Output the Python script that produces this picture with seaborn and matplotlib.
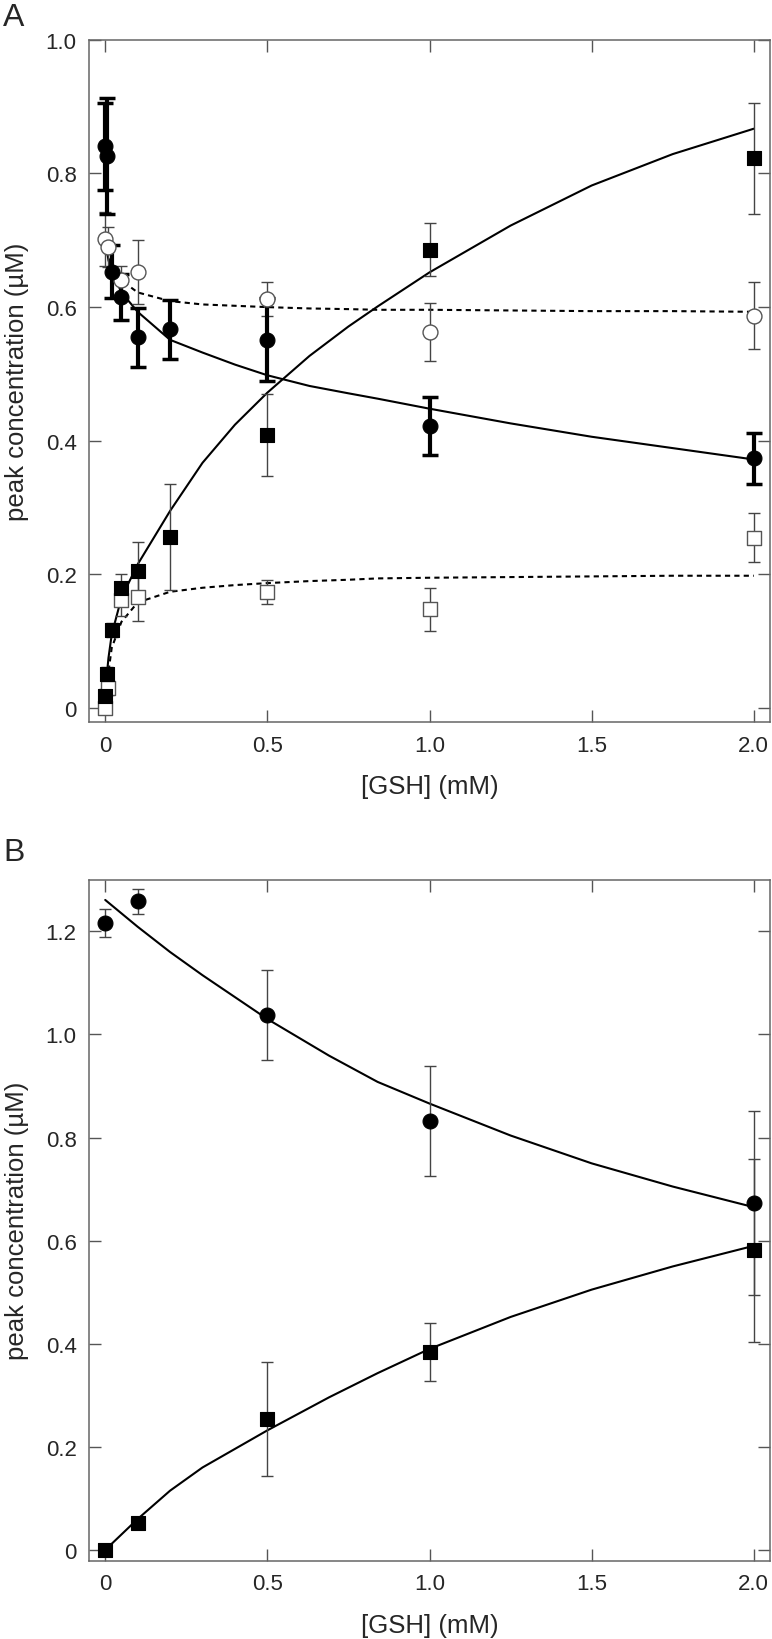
import matplotlib
matplotlib.use("Agg")
import matplotlib.pyplot as plt
import pandas as pd
import seaborn as sns

# ---- panel A: measured points ----
a_fc_x = [0, 0.005, 0.02, 0.05, 0.1, 0.2, 0.5, 1.0, 2.0]          # filled circles
a_fc_y = [0.841, 0.826, 0.653, 0.615, 0.555, 0.567, 0.551, 0.422, 0.374]
a_fc_e = [0.065, 0.087, 0.040, 0.035, 0.044, 0.044, 0.062, 0.044, 0.038]

a_oc_x = [0, 0.01, 0.05, 0.1, 0.5, 1.0, 2.0]                        # open circles
a_oc_y = [0.702, 0.690, 0.641, 0.652, 0.612, 0.563, 0.587]
a_oc_e = [0.040, 0.030, 0.020, 0.048, 0.025, 0.043, 0.050]

a_fs_x = [0, 0.005, 0.02, 0.05, 0.1, 0.2, 0.5, 1.0, 2.0]          # filled squares
a_fs_y = [0.018, 0.051, 0.117, 0.180, 0.205, 0.256, 0.409, 0.686, 0.823]
a_fs_e = [0.010, 0.010, 0.010, 0.020, 0.043, 0.080, 0.061, 0.040, 0.083]

a_os_x = [0, 0.01, 0.05, 0.1, 0.5, 1.0, 2.0]                        # open squares
a_os_y = [0.0, 0.030, 0.162, 0.166, 0.173, 0.148, 0.255]
a_os_e = [0.005, 0.010, 0.024, 0.035, 0.018, 0.032, 0.037]

# ---- panel A: fitted curves ----
a_fit_x = [0, 0.005, 0.01, 0.02, 0.05, 0.1, 0.2, 0.3, 0.4, 0.5, 0.63, 0.75, 0.84, 1.0, 1.25, 1.5, 1.75, 2.0]
a_fit_sq = [0.015, 0.05, 0.075, 0.11, 0.165, 0.215, 0.295, 0.367, 0.424, 0.472, 0.527, 0.571, 0.601, 0.652, 0.722, 0.782, 0.829, 0.867]
a_fit_ci = [0.70, 0.685, 0.67, 0.655, 0.622, 0.593, 0.551, 0.532, 0.514, 0.498, 0.482, 0.471, 0.463, 0.448, 0.426, 0.406, 0.389, 0.372]
a_fit_oc = [0.70, 0.69, 0.675, 0.66, 0.64, 0.622, 0.609, 0.604, 0.602, 0.600, 0.598, 0.597, 0.596, 0.596, 0.595, 0.594, 0.594, 0.593]
a_fit_os = [0.0, 0.03, 0.054, 0.09, 0.129, 0.158, 0.174, 0.180, 0.184, 0.187, 0.190, 0.192, 0.194, 0.195, 0.196, 0.197, 0.198, 0.198]

# ---- panel B ----
b_x = [0, 0.1, 0.5, 1.0, 2.0]
b_ci_y = [1.216, 1.258, 1.038, 0.832, 0.673]
b_ci_e = [0.027, 0.024, 0.087, 0.106, 0.178]
b_sq_y = [0.0, 0.052, 0.254, 0.3835, 0.581]
b_sq_e = [0.005, 0.005, 0.110, 0.056, 0.177]

b_fit_x = [0, 0.1, 0.2, 0.3, 0.5, 0.69, 0.84, 1.0, 1.25, 1.5, 1.75, 2.0]
b_fit_ci = [1.261, 1.209, 1.16, 1.115, 1.03, 0.959, 0.908, 0.866, 0.804, 0.75, 0.705, 0.665]
b_fit_sq = [0.0, 0.06, 0.115, 0.16, 0.232, 0.296, 0.343, 0.39, 0.452, 0.505, 0.55, 0.59]

xticks = [0, 0.5, 1.0, 1.5, 2.0]
xticklabels = ["0", "0.5", "1.0", "1.5", "2.0"]
a_yticks = [0, 0.2, 0.4, 0.6, 0.8, 1.0]
a_yticklabels = ["0", "0.2", "0.4", "0.6", "0.8", "1.0"]
b_yticks = [0, 0.2, 0.4, 0.6, 0.8, 1.0, 1.2]
b_yticklabels = ["0", "0.2", "0.4", "0.6", "0.8", "1.0", "1.2"]

sns.set_style("ticks")
plt.rcParams["font.family"] = ["Liberation Sans", "DejaVu Sans"]

fig = plt.figure(figsize=(7.72, 16.4), dpi=100)
axA = fig.add_axes([0.1153, 0.5591, 0.8821, 0.4160])
axB = fig.add_axes([0.1153, 0.0477, 0.8821, 0.4152])

THIN = "#444444"
DASH = (0, (2.5, 2))


def fit(ax, x, y, dashed=False):
    df = pd.DataFrame({"x": x, "y": y})
    sns.lineplot(data=df, x="x", y="y", ax=ax, color="black", lw=1.5,
                 linestyle=DASH if dashed else "-", sort=False, zorder=2)


def points(ax, x, y, e, marker, filled, thick=False):
    if thick:
        ax.errorbar(x, y, yerr=e, fmt="none", ecolor="black", elinewidth=3,
                    capsize=5.5, capthick=2.5, zorder=3)
    else:
        ax.errorbar(x, y, yerr=e, fmt="none", ecolor=THIN, elinewidth=1,
                    capsize=4, capthick=1, zorder=3)
    sns.scatterplot(x=x, y=y, ax=ax, marker=marker, s=115,
                    color="black" if filled else "white",
                    edgecolor="black" if filled else "#555555",
                    linewidth=0.8 if filled else 1.0, zorder=4, legend=False)


# panel A
fit(axA, a_fit_x, a_fit_oc, dashed=True)
fit(axA, a_fit_x, a_fit_os, dashed=True)
fit(axA, a_fit_x, a_fit_sq)
fit(axA, a_fit_x, a_fit_ci)
points(axA, a_oc_x, a_oc_y, a_oc_e, "o", False)
points(axA, a_os_x, a_os_y, a_os_e, "s", False)
points(axA, a_fs_x, a_fs_y, a_fs_e, "s", True)
points(axA, a_fc_x, a_fc_y, a_fc_e, "o", True, thick=True)

# panel B
fit(axB, b_fit_x, b_fit_ci)
fit(axB, b_fit_x, b_fit_sq)
points(axB, b_x, b_ci_y, b_ci_e, "o", True)
points(axB, b_x, b_sq_y, b_sq_e, "s", True)

for ax, ylim, yt, ytl in [(axA, (-0.021, 1.0), a_yticks, a_yticklabels),
                          (axB, (-0.021, 1.30), b_yticks, b_yticklabels)]:
    ax.set_xlim(-0.05, 2.05)
    ax.set_ylim(*ylim)
    ax.set_xticks(xticks)
    ax.set_xticklabels(xticklabels)
    ax.set_yticks(yt)
    ax.set_yticklabels(ytl)
    ax.tick_params(direction="in", length=8.5, width=1, color="#555555",
                   top=True, right=True, labelsize=16, pad=9)
    for sp in ax.spines.values():
        sp.set_color("#666666")
        sp.set_linewidth(1.1)
    ax.set_xlabel("[GSH] (mM)", fontsize=18.5)
    ax.set_ylabel("peak concentration (µM)", fontsize=18.5)
    ax.xaxis.set_label_coords(0.5, -0.0765)
    ax.yaxis.set_label_coords(-0.0888, 0.5)

fig.text(0.004, 1 - 18.5 / 1640, "A", fontsize=23, va="center", ha="left")
fig.text(0.004, 1 - 853.5 / 1640, "B", fontsize=23, va="center", ha="left")

fig.savefig("out.png", dpi=100)
